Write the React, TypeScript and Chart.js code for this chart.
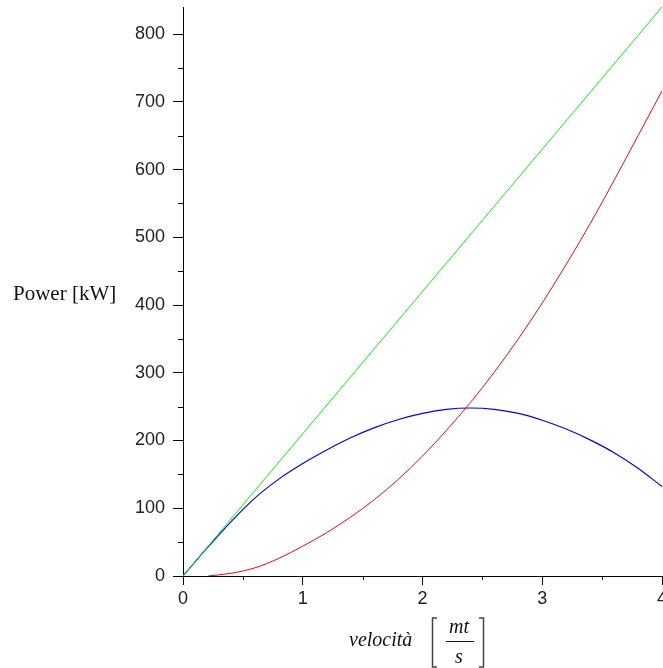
import { useEffect, useRef } from 'react';
import Chart from 'chart.js/auto';

// Axis ticks
const X_TICKS = [0, 1, 2, 3, 4];
const X_MINOR = [0.5, 1.5, 2.5, 3.5];
const Y_TICKS = [0, 100, 200, 300, 400, 500, 600, 700, 800];
const Y_MINOR = [50, 150, 250, 350, 450, 550, 650, 750];
const X_MAX = 4;
const Y_MAX = 840;

// Series (velocity [mt/s] -> power [kW])
const GREEN_V = [0, 4];
const GREEN_P = [0, 840];

const RED_V = [0.21, 0.4, 0.6, 0.8, 1.0, 1.2, 1.4, 1.6, 1.8, 2.0, 2.2, 2.4, 2.6, 2.8, 3.0, 3.2, 3.4, 3.6, 3.8, 4.0];
const RED_P = [0, 4, 12, 26, 44, 64, 87, 113, 143, 177, 215, 256, 301, 350, 403, 460, 520, 584, 650, 716];

const BLUE_V = [0, 0.2, 0.4, 0.6, 0.8, 1.0, 1.2, 1.4, 1.6, 1.8, 2.0, 2.2, 2.4, 2.6, 2.8, 3.0, 3.2, 3.4, 3.6, 3.8, 4.0];
const BLUE_P = [0, 41, 80, 115, 143, 166, 186, 204, 219, 231, 240, 246, 248, 246, 240, 230, 217, 201, 182, 159, 132];

const Y_TITLE = 'Power [kW]';
const X_TITLE = 'velocità';
const X_UNIT_NUM = 'mt';
const X_UNIT_DEN = 's';

const pts = (v: number[], p: number[]) => v.map((x, i) => ({ x, y: p[i] }));

const decorPlugin = {
  id: 'decor',
  afterDraw(chart: any) {
    const { ctx, chartArea, scales } = chart;
    const xs = scales.x;
    const ys = scales.y;
    ctx.save();
    ctx.strokeStyle = '#000';
    ctx.lineWidth = 1;
    ctx.beginPath();
    X_MINOR.forEach((v) => {
      const px = Math.round(xs.getPixelForValue(v)) + 0.5;
      ctx.moveTo(px, chartArea.bottom);
      ctx.lineTo(px, chartArea.bottom + 4);
    });
    Y_MINOR.forEach((v) => {
      const py = Math.round(ys.getPixelForValue(v)) + 0.5;
      ctx.moveTo(chartArea.left - 5, py);
      ctx.lineTo(chartArea.left, py);
    });
    ctx.stroke();

    // y title
    ctx.fillStyle = '#111';
    ctx.textBaseline = 'alphabetic';
    ctx.textAlign = 'left';
    ctx.font = '21px "Liberation Serif"';
    ctx.fillText(Y_TITLE, 13, 300);

    // x title
    ctx.font = 'italic 20px "Liberation Serif"';
    ctx.fillText(X_TITLE, 349, 646);
    ctx.textAlign = 'center';
    ctx.fillText(X_UNIT_NUM, 459, 633);
    ctx.fillText(X_UNIT_DEN, 459, 663);
    ctx.beginPath();
    ctx.lineWidth = 1;
    ctx.strokeStyle = '#111';
    ctx.moveTo(446, 641.5);
    ctx.lineTo(474, 641.5);
    ctx.stroke();
    // brackets
    ctx.lineWidth = 1.5;
    ctx.strokeStyle = '#444';
    ctx.beginPath();
    ctx.moveTo(437, 618);
    ctx.lineTo(432.5, 618);
    ctx.lineTo(432.5, 667);
    ctx.lineTo(437, 667);
    ctx.moveTo(479, 618);
    ctx.lineTo(483.5, 618);
    ctx.lineTo(483.5, 667);
    ctx.lineTo(479, 667);
    ctx.stroke();
    ctx.restore();
  },
};

export default function App() {
  const ref = useRef<HTMLCanvasElement>(null);
  useEffect(() => {
    document.body.style.margin = '0';
    const tickFont = { family: '"Liberation Sans", Arial, sans-serif', size: 18 };
    const chart = new Chart(ref.current as HTMLCanvasElement, {
      type: 'line',
      data: {
        datasets: [
          { data: pts(GREEN_V, GREEN_P), borderColor: '#00ff00', borderWidth: 1, pointRadius: 0, tension: 0 },
          { data: pts(RED_V, RED_P), borderColor: '#ff0000', borderWidth: 1, pointRadius: 0, cubicInterpolationMode: 'monotone' },
          { data: pts(BLUE_V, BLUE_P), borderColor: '#0000ff', borderWidth: 1.2, pointRadius: 0, cubicInterpolationMode: 'monotone' },
        ],
      },
      options: {
        animation: false,
        responsive: false,
        layout: { padding: { top: 7, right: 1, left: 0, bottom: 0 } },
        plugins: { legend: { display: false }, tooltip: { enabled: false } },
        scales: {
          x: {
            type: 'linear',
            min: 0,
            max: X_MAX,
            afterBuildTicks: (s: any) => { s.ticks = X_TICKS.map((value) => ({ value })); },
            afterFit: (s: any) => { s.height = 92; s.paddingLeft = 0; s.paddingRight = 0; },
            ticks: { font: tickFont, color: '#222', padding: 3, maxRotation: 0, autoSkip: false },
            grid: { display: true, drawOnChartArea: false, drawTicks: true, tickLength: 9, color: '#000', lineWidth: 1 },
            border: { display: true, color: '#000', width: 1 },
          },
          y: {
            type: 'linear',
            min: 0,
            max: Y_MAX,
            afterBuildTicks: (s: any) => { s.ticks = Y_TICKS.map((value) => ({ value })); },
            afterFit: (s: any) => { s.width = 183; s.paddingTop = 0; s.paddingBottom = 0; },
            ticks: { font: tickFont, color: '#222', padding: 8, autoSkip: false },
            grid: { display: true, drawOnChartArea: false, drawTicks: true, tickLength: 10, color: '#000', lineWidth: 1 },
            border: { display: true, color: '#000', width: 1 },
          },
        },
      },
      plugins: [decorPlugin],
    });
    return () => chart.destroy();
  }, []);
  return (
    <div style={{ width: 663, height: 668 }}>
      <canvas ref={ref} width={663} height={668} style={{ display: 'block' }} />
    </div>
  );
}
